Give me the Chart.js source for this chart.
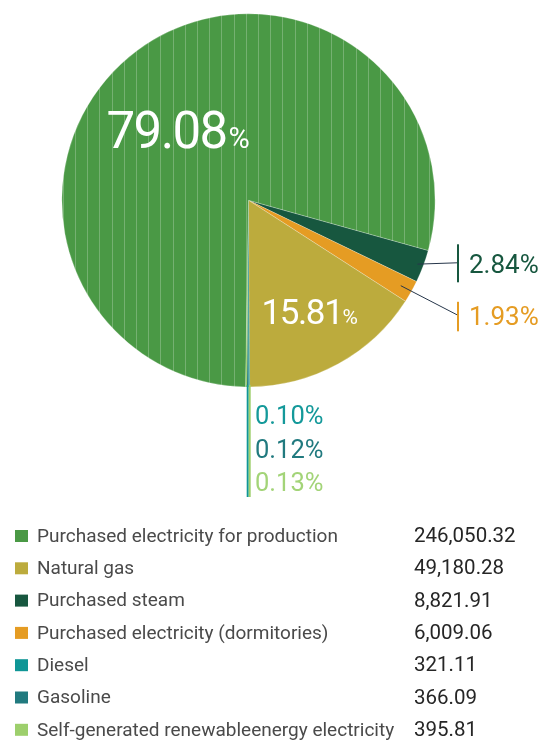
<!DOCTYPE html>
<html>
<head>
<meta charset="utf-8">
<script src="https://cdn.jsdelivr.net/npm/chart.js@4.4.1/dist/chart.umd.min.js"></script>
<style>
  html, body { margin: 0; padding: 0; background: #ffffff; }
  canvas { display: block; }
</style>
</head>
<body>
<canvas id="c" width="541" height="741"></canvas>
<script>
// Energy consumption by source
const categories = [
  'Purchased electricity for production',
  'Natural gas',
  'Purchased steam',
  'Purchased electricity (dormitories)',
  'Diesel',
  'Gasoline',
  'Self-generated renewableenergy electricity'
];
const values = [246050.32, 49180.28, 8821.91, 6009.06, 321.11, 366.09, 395.81];
const valueLabels = ['246,050.32', '49,180.28', '8,821.91', '6,009.06', '321.11', '366.09', '395.81'];
const colors = ['#4a9945', '#bcab3d', '#17573f', '#e59c23', '#0f9696', '#217a7f', '#9dcf6c'];
const labelColors = ['#ffffff', '#ffffff', '#17573f', '#e59c23', '#14999a', '#217a7f', '#a3d478'];

// clockwise order of the slices around the pie, beginning with the steam slice
const sliceOrder = [2, 3, 1, 4, 5, 6, 0];

const total = values.reduce((a, b) => a + b, 0);
const pct = values.map(v => (v / total * 100).toFixed(2));

// vertical pin-stripe fill for the largest slice
function stripeFill(base) {
  const p = document.createElement('canvas');
  p.width = 61; p.height = 4;
  const g = p.getContext('2d');
  g.fillStyle = base;
  g.fillRect(0, 0, p.width, p.height);
  g.fillStyle = 'rgba(255,255,255,0.24)';
  [2, 14, 26, 38, 51].forEach(x => g.fillRect(x, 0, 1, p.height));
  return g.createPattern(p, 'repeat');
}

const ctxMain = document.getElementById('c').getContext('2d');
const fills = colors.map((c, i) => i === 0 ? stripeFill(c) : c);

const ROBOTO = 'Roboto, "Noto Sans", sans-serif';

function numberWithPercent(ctx, text, x, y, bigSize, smallSize, color, spacing, gap) {
  ctx.save();
  ctx.fillStyle = color;
  ctx.textBaseline = 'alphabetic';
  ctx.textAlign = 'left';
  ctx.font = `400 ${bigSize}px ${ROBOTO}`;
  ctx.letterSpacing = spacing + 'px';
  ctx.fillText(text, x, y);
  const w = ctx.measureText(text).width;
  ctx.font = `400 ${smallSize}px ${ROBOTO}`;
  ctx.letterSpacing = '0px';
  ctx.fillText('%', x + w + gap, y);
  ctx.restore();
}

const annotations = {
  id: 'annotations',
  afterDatasetsDraw(chart) {
    const ctx = chart.ctx;
    const meta = chart.getDatasetMeta(0);
    const arcOf = {};
    sliceOrder.forEach((cat, k) => { arcOf[cat] = meta.data[k]; });
    const a0 = arcOf[0];
    const cx = a0.x, cy = a0.y, r = a0.outerRadius;

    // in-slice percentages
    numberWithPercent(ctx, pct[0], cx - 142, cy - 52, 51, 29, labelColors[0], -1.6, 2);
    numberWithPercent(ctx, pct[1], cx + 13, cy + 124, 35, 21, labelColors[1], -1.4, 0);

    // callouts on the right for steam and dormitory electricity
    const callouts = [
      { cat: 2, textY: cy + 72.5, barTop: cy + 44, barBot: cy + 82, lineR: r - 6 },
      { cat: 3, textY: cy + 124.5, barTop: cy + 101.5, barBot: cy + 131, lineR: r - 12 }
    ];
    const barX = cx + 209.5;
    callouts.forEach(c => {
      const arc = arcOf[c.cat];
      const mid = (arc.startAngle + arc.endAngle) / 2;
      const sx = cx + Math.cos(mid) * c.lineR;
      const sy = cy + Math.sin(mid) * c.lineR;
      ctx.save();
      ctx.strokeStyle = '#26364a';
      ctx.lineWidth = 1;
      ctx.beginPath();
      ctx.moveTo(sx, sy);
      ctx.lineTo(barX - 1, c.textY - 10);
      ctx.stroke();
      ctx.fillStyle = labelColors[c.cat];
      ctx.fillRect(barX - 1, c.barTop, 2, c.barBot - c.barTop);
      ctx.font = `400 26px ${ROBOTO}`;
      ctx.textAlign = 'left';
      ctx.textBaseline = 'alphabetic';
      ctx.fillText(pct[c.cat] + '%', barX + 11, c.textY);
      ctx.restore();
    });

    // leader lines below the pie for the three smallest slices
    const lineBottom = 497;
    ctx.save();
    ctx.fillStyle = colors[4];
    ctx.fillRect(cx - 1.8, cy + r - 2, 2, lineBottom - (cy + r - 2));
    ctx.fillStyle = colors[6];
    ctx.fillRect(cx + 0.2, cy + r - 2, 2, lineBottom - (cy + r - 2));
    ctx.font = `400 25.5px ${ROBOTO}`;
    ctx.textAlign = 'left';
    ctx.textBaseline = 'alphabetic';
    [4, 5, 6].forEach((cat, i) => {
      ctx.fillStyle = labelColors[cat];
      ctx.fillText(pct[cat] + '%', cx + 6.5, cy + 224 + i * 33.2);
    });
    ctx.restore();

    // legend with values
    ctx.save();
    categories.forEach((name, i) => {
      const yc = 536 + i * 32.3;
      ctx.fillStyle = colors[i];
      ctx.fillRect(15, yc - 6, 13, 12);
      ctx.font = `400 19px ${ROBOTO}`;
      ctx.fillStyle = '#4a4a4a';
      ctx.textAlign = 'left';
      ctx.textBaseline = 'middle';
      ctx.fillText(name, 37, yc + 1);
      ctx.font = `400 20.5px ${ROBOTO}`;
      ctx.fillStyle = '#262626';
      ctx.fillText(valueLabels[i], 414, yc + 1);
    });
    ctx.restore();
  }
};

new Chart(ctxMain, {
  type: 'pie',
  data: {
    labels: sliceOrder.map(i => categories[i]),
    datasets: [{
      data: sliceOrder.map(i => values[i]),
      backgroundColor: sliceOrder.map(i => fills[i]),
      borderColor: 'rgba(255,255,255,0.3)',
      borderWidth: sliceOrder.map(i => (i >= 4 ? 0 : 0.8)),
      hoverOffset: 0
    }]
  },
  options: {
    responsive: false,
    animation: false,
    rotation: 105.6,
    layout: { padding: { left: 61.5, right: 105.5, top: 13.3, bottom: 353.7 } },
    plugins: {
      legend: { display: false },
      tooltip: { enabled: false }
    },
    events: []
  },
  plugins: [annotations]
});
</script>
</body>
</html>
